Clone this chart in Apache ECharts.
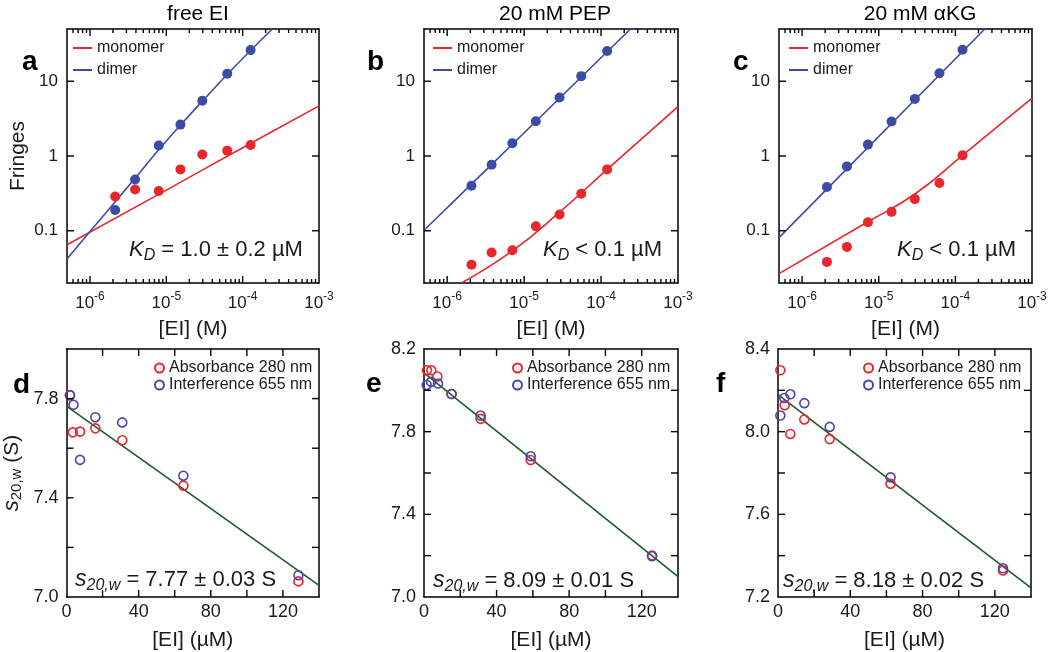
<!DOCTYPE html>
<html><head><meta charset="utf-8">
<script src="https://cdn.jsdelivr.net/npm/echarts@6/dist/echarts.min.js"></script>
<style>html,body{margin:0;padding:0;background:#fff}#c{width:1050px;height:652px}</style>
</head><body><div id="c"></div>
<script>
// ---------- data ----------
const panelTitles = ['free EI', '20 mM PEP', '20 mM \u03b1KG'];
const panelLetters = ['a', 'b', 'c', 'd', 'e', 'f'];
const kdTexts = ['{i|K}{s|D}{n| = 1.0 \u00b1 0.2 \u00b5M}', '{i|K}{s|D}{n| < 0.1 \u00b5M}', '{i|K}{s|D}{n| < 0.1 \u00b5M}'];
const sedTexts = ['{i|s}{s|20,w}{n| = 7.77 \u00b1 0.03 S}', '{i|s}{s|20,w}{n| = 8.09 \u00b1 0.01 S}', '{i|s}{s|20,w}{n| = 8.18 \u00b1 0.02 S}'];

// top row (log-log): concentration (M) vs fringes
const conc_a = [2.14e-6, 3.9e-6, 7.96e-6, 1.53e-5, 2.96e-5, 6.28e-5, 1.27e-4];
const dimer_a = [0.189, 0.486, 1.38, 2.63, 5.47, 12.6, 26.1];
const monomer_a = [0.288, 0.357, 0.340, 0.662, 1.05, 1.18, 1.40];
const dimerFit_a = [[5e-7,0.042],[1e-6,0.098],[2e-6,0.225],[4e-6,0.52],[8e-6,1.22],[1.6e-5,2.72],[3.2e-5,5.9],[6.4e-5,12.6],[1.28e-4,26],[2.45e-4,50]];
const monomerFit_a = [[5e-7,0.065],[1e-5,0.35],[1e-4,1.29],[1e-3,4.69]];

const conc_b = [2.07e-6, 3.78e-6, 7.03e-6, 1.42e-5, 2.89e-5, 5.53e-5, 1.20e-4];
const dimer_b = [0.400, 0.765, 1.48, 2.92, 6.06, 11.7, 25.4];
const monomer_b = [0.0352, 0.0511, 0.0548, 0.115, 0.165, 0.312, 0.662];
const dimerFit_b = [[5e-7,0.1016],[2.07e-6,0.42],[1.2e-4,24.8],[2.41e-4,50]];
const monomerFit_b = [[1.53e-6,0.02],[7.03e-6,0.0537],[2.89e-5,0.177],[1.2e-4,0.662],[1e-3,4.59]];

const conc_c = [2.11e-6, 3.85e-6, 7.23e-6, 1.47e-5, 2.96e-5, 6.20e-5, 1.24e-4];
const dimer_c = [0.384, 0.726, 1.42, 2.89, 5.81, 12.8, 26.4];
const monomer_c = [0.0383, 0.0608, 0.130, 0.179, 0.265, 0.435, 1.02];
const dimerFit_c = [[5e-7,0.081],[2.42e-4,50]];
const monomerFit_c = [[5e-7,0.0267],[7.23e-6,0.132],[2.96e-5,0.31],[1.24e-4,1.02],[1e-3,5.93]];

// bottom row: [EI] (uM) vs s20,w (S)
const absX_d = [1.84, 3.5, 7.5, 16.0, 30.9, 64.8, 128.6];
const absY_d = [7.814, 7.664, 7.667, 7.680, 7.632, 7.449, 7.063];
const intX_d = [2.0, 3.86, 7.5, 16.0, 30.9, 64.8, 128.6];
const intY_d = [7.814, 7.775, 7.553, 7.725, 7.704, 7.489, 7.088];
const fit_d = [[0, 7.77], [140, 7.047]];

const absX_e = [1.65, 4.04, 7.35, 15.2, 31.2, 58.8, 125.7];
const absY_e = [8.097, 8.097, 8.067, 7.982, 7.862, 7.663, 7.201];
const intX_e = [1.5, 3.9, 7.7, 15.2, 31.2, 58.8, 125.7];
const intY_e = [8.026, 8.041, 8.033, 7.982, 7.878, 7.681, 7.197];
const fit_e = [[0, 8.085], [140, 7.099]];

const absX_f = [1.29, 3.69, 6.82, 14.57, 28.6, 62.3, 124.5];
const absY_f = [8.297, 8.128, 7.989, 8.059, 7.964, 7.748, 7.328];
const intX_f = [1.29, 3.5, 6.82, 14.57, 28.6, 62.3, 124.5];
const intY_f = [8.078, 8.163, 8.181, 8.138, 8.023, 7.779, 7.339];
const fit_f = [[0, 8.179], [140, 7.244]];

// axis ranges / ticks
const logX = [5e-7, 1e-3];
const logY = [0.02, 50];
const logYLabels = [0.1, 1, 10];
const logXMajorTicks = [1e-6, 1e-5, 1e-4];
const logXMinorTicks = [6e-7,7e-7,8e-7,9e-7,2e-6,3e-6,4e-6,5e-6,6e-6,7e-6,8e-6,9e-6,2e-5,3e-5,4e-5,5e-5,6e-5,7e-5,8e-5,9e-5,2e-4,3e-4,4e-4,5e-4,6e-4,7e-4,8e-4,9e-4];
const linX = [0, 140];
const linXTicks = [20, 40, 60, 80, 100, 120];
const linYRanges = [[7.0, 8.0], [7.0, 8.2], [7.2, 8.4]];
const linYTicks = [[7.2, 7.4, 7.6, 7.8], [7.2, 7.4, 7.6, 7.8, 8.0], [7.4, 7.6, 7.8, 8.0, 8.2]];

// ---------- styling ----------
const FONT = '"Liberation Sans", Arial, Helvetica, sans-serif';
const RED = '#e8262c', BLUE = '#3a4ca6', BLUE2 = '#4a47a8', GREEN = '#1f5a26', TXT = '#1a1a1a';
const grids = [
  {left: 67, top: 29, width: 252, height: 254},
  {left: 424, top: 29, width: 254, height: 254},
  {left: 779, top: 29, width: 253, height: 254},
  {left: 66, top: 349, width: 253, height: 254},
  {left: 424, top: 349, width: 254, height: 254},
  {left: 778, top: 349, width: 253, height: 254}
];
function frameLine() { return {show: true, onZero: false, lineStyle: {color: '#000', width: 1.5}}; }
function noTick() { return {show: false}; }
const TW = 1.4, MAJ = 7, MIN = 4;

function near(a, b) { return Math.abs(a / b - 1) < 1e-6; }
function logXFmt(v) {
  const e = Math.log10(v), r = Math.round(e);
  if (Math.abs(e - r) > 1e-6) return '';
  return '{b|10}{s|' + r + '}';
}
function logYFmt(v) {
  for (const l of logYLabels) if (near(v, l)) return String(l);
  return '';
}

const xAxis = [], yAxis = [], series = [], legend = [];
function tickSeries(xi, yi, data, w, h, off) {
  series.push({type: 'scatter', xAxisIndex: xi, yAxisIndex: yi, data: data, symbol: 'rect',
    symbolSize: [w, h], symbolOffset: off, itemStyle: {color: '#000', opacity: 1}, silent: true, clip: false, z: 6});
}
function addTicks(xi, yi, xMaj, xMin, yMaj, xr, yr) {
  tickSeries(xi, yi, xMaj.map(v => [v, yr[0]]), TW, MAJ, [0, -MAJ / 2]);
  tickSeries(xi, yi, xMaj.map(v => [v, yr[1]]), TW, MAJ, [0, MAJ / 2]);
  if (xMin.length) {
    tickSeries(xi, yi, xMin.map(v => [v, yr[0]]), TW, MIN, [0, -MIN / 2]);
    tickSeries(xi, yi, xMin.map(v => [v, yr[1]]), TW, MIN, [0, MIN / 2]);
  }
  tickSeries(xi, yi, yMaj.map(v => [xr[0], v]), MAJ, TW, [MAJ / 2, 0]);
  tickSeries(xi, yi, yMaj.map(v => [xr[1], v]), MAJ, TW, [-MAJ / 2, 0]);
}

const topData = [
  {conc: conc_a, dimer: dimer_a, mono: monomer_a, dFit: dimerFit_a, mFit: monomerFit_a},
  {conc: conc_b, dimer: dimer_b, mono: monomer_b, dFit: dimerFit_b, mFit: monomerFit_b},
  {conc: conc_c, dimer: dimer_c, mono: monomer_c, dFit: dimerFit_c, mFit: monomerFit_c}
];
const botData = [
  {ax: absX_d, ay: absY_d, ix: intX_d, iy: intY_d, fit: fit_d},
  {ax: absX_e, ay: absY_e, ix: intX_e, iy: intY_e, fit: fit_e},
  {ax: absX_f, ay: absY_f, ix: intX_f, iy: intY_f, fit: fit_f}
];
const zip = (xs, ys) => xs.map((x, k) => [x, ys[k]]);

for (let i = 0; i < 6; i++) {
  const isTop = i < 3;
  const xi = 2 * i, yi = 2 * i;
  if (isTop) {
    xAxis.push({
      type: 'log', logBase: 10, gridIndex: i, min: logX[0], max: logX[1], position: 'bottom',
      axisLine: frameLine(), axisTick: noTick(), splitLine: {show: false},
      axisLabel: {formatter: logXFmt, margin: 8, rich: {
        b: {fontSize: 17, fontFamily: FONT, color: TXT},
        s: {fontSize: 12, fontFamily: FONT, color: TXT, padding: [0, 0, 12, 0]}}},
      name: '[EI] (M)', nameLocation: 'middle', nameGap: 36,
      nameTextStyle: {fontSize: 21, fontFamily: FONT, color: TXT}
    });
    xAxis.push({
      type: 'log', logBase: 10, gridIndex: i, min: logX[0], max: logX[1], position: 'top',
      axisLine: frameLine(), axisTick: noTick(), splitLine: {show: false}, axisLabel: {show: false}
    });
    yAxis.push({
      type: 'log', logBase: 10, gridIndex: i, min: logY[0], max: logY[1], position: 'left',
      axisLine: frameLine(), axisTick: noTick(), splitLine: {show: false},
      axisLabel: {formatter: logYFmt, margin: 9, fontSize: 17, fontFamily: FONT, color: TXT},
      name: i === 0 ? 'Fringes' : '', nameLocation: 'middle', nameGap: 38,
      nameTextStyle: {fontSize: 21, fontFamily: FONT, color: TXT}
    });
    yAxis.push({
      type: 'log', logBase: 10, gridIndex: i, min: logY[0], max: logY[1], position: 'right',
      axisLine: frameLine(), axisTick: noTick(), splitLine: {show: false}, axisLabel: {show: false}
    });
    const d = topData[i];
    series.push({type: 'line', name: 'monomer', xAxisIndex: xi, yAxisIndex: yi, data: d.mFit,
      showSymbol: false, smooth: true, lineStyle: {color: RED, width: 1.6}, itemStyle: {color: RED}, z: 2, silent: true});
    series.push({type: 'line', name: 'dimer', xAxisIndex: xi, yAxisIndex: yi, data: d.dFit,
      showSymbol: false, smooth: true, lineStyle: {color: BLUE, width: 1.6}, itemStyle: {color: BLUE}, z: 2, silent: true});
    series.push({type: 'scatter', name: 'monomer data', xAxisIndex: xi, yAxisIndex: yi, data: zip(d.conc, d.mono),
      symbolSize: 10, itemStyle: {color: RED, opacity: 1}, z: 3});
    series.push({type: 'scatter', name: 'dimer data', xAxisIndex: xi, yAxisIndex: yi, data: zip(d.conc, d.dimer),
      symbolSize: 10, itemStyle: {color: BLUE, opacity: 1}, z: 3});
    addTicks(xi, yi, logXMajorTicks, logXMinorTicks, logYLabels, logX, logY);
    const legLeft = [73, 433, 789][i];
    legend.push({data: ['monomer', 'dimer'], orient: 'vertical', left: legLeft, top: 40, padding: 0,
      icon: 'rect', itemWidth: 19, itemHeight: 2, itemGap: 6, selectedMode: false,
      textStyle: {fontSize: 16, fontFamily: FONT, color: TXT, lineHeight: 16}});
  } else {
    const j = i - 3;
    const yr = linYRanges[j];
    xAxis.push({
      type: 'value', gridIndex: i, min: linX[0], max: linX[1], interval: 20, position: 'bottom',
      axisLine: frameLine(), axisTick: noTick(), splitLine: {show: false},
      axisLabel: {formatter: v => (Math.round(v) % 40 === 0 ? String(Math.round(v)) : ''), margin: 6,
        fontSize: 18, fontFamily: FONT, color: TXT, showMinLabel: true, showMaxLabel: true},
      name: '[EI] (\u00b5M)', nameLocation: 'middle', nameGap: 33,
      nameTextStyle: {fontSize: 21, fontFamily: FONT, color: TXT}
    });
    xAxis.push({
      type: 'value', gridIndex: i, min: linX[0], max: linX[1], interval: 20, position: 'top',
      axisLine: frameLine(), axisTick: noTick(), splitLine: {show: false}, axisLabel: {show: false}
    });
    yAxis.push({
      type: 'value', gridIndex: i, min: yr[0], max: yr[1], interval: 0.2, position: 'left',
      axisLine: frameLine(), axisTick: noTick(), splitLine: {show: false},
      axisLabel: {formatter: v => (Math.round((v - yr[0]) / 0.2) % 2 === 0 ? v.toFixed(1) : ''), margin: 8,
        fontSize: 18, fontFamily: FONT, color: TXT, showMinLabel: true, showMaxLabel: true},
      name: j === 0 ? '{i|s}{s|20,w}{n| (S)}' : '', nameLocation: 'middle', nameGap: 42,
      nameTextStyle: {fontSize: 21, fontFamily: FONT, color: TXT, rich: {
        i: {fontSize: 22, fontFamily: FONT, fontStyle: 'italic', color: TXT},
        s: {fontSize: 15, fontFamily: FONT, color: TXT, padding: [10, 0, 0, 0]},
        n: {fontSize: 21, fontFamily: FONT, color: TXT}}}
    });
    yAxis.push({
      type: 'value', gridIndex: i, min: yr[0], max: yr[1], interval: 0.2, position: 'right',
      axisLine: frameLine(), axisTick: noTick(), splitLine: {show: false}, axisLabel: {show: false}
    });
    const d = botData[j];
    series.push({type: 'line', name: 'fit', xAxisIndex: xi, yAxisIndex: yi, data: d.fit, showSymbol: false,
      lineStyle: {color: GREEN, width: 1.6}, itemStyle: {color: GREEN}, z: 2, silent: true});
    series.push({type: 'scatter', name: 'Absorbance 280 nm', xAxisIndex: xi, yAxisIndex: yi, data: zip(d.ax, d.ay),
      symbolSize: 9, itemStyle: {color: 'rgba(255,255,255,0)', borderColor: RED, borderWidth: 1.6, opacity: 1}, z: 3});
    series.push({type: 'scatter', name: 'Interference 655 nm', xAxisIndex: xi, yAxisIndex: yi, data: zip(d.ix, d.iy),
      symbolSize: 9, itemStyle: {color: 'rgba(255,255,255,0)', borderColor: BLUE2, borderWidth: 1.6, opacity: 1}, z: 4});
    addTicks(xi, yi, linXTicks, [], linYTicks[j], linX, yr);
    const legLeft = [154, 512, 863][j];
    legend.push({data: ['Absorbance 280 nm', 'Interference 655 nm'], orient: 'vertical', left: legLeft, top: 360, padding: 0,
      icon: 'circle', itemWidth: 9, itemHeight: 9, itemGap: 1, selectedMode: false,
      textStyle: {fontSize: 16, fontFamily: FONT, color: TXT, lineHeight: 16}});
  }
}

// ---------- text annotations ----------
const graphic = [];
const titleX = [198, 555, 920];
panelTitles.forEach((t, k) => graphic.push({type: 'text', x: titleX[k], y: 14,
  style: {text: t, font: '21px ' + FONT, fill: '#000', align: 'center', verticalAlign: 'middle'}}));
const letterPos = [[22, 48], [367, 48], [733, 48], [13, 371], [366, 370], [716, 370]];
panelLetters.forEach((t, k) => graphic.push({type: 'text', x: letterPos[k][0], y: letterPos[k][1],
  style: {text: t, font: 'bold 28px ' + FONT, fill: '#000', align: 'left', verticalAlign: 'alphabetic'}}));
const kdRich = {
  i: {fontSize: 22, fontFamily: FONT, fontStyle: 'italic', fill: TXT},
  s: {fontSize: 16, fontFamily: FONT, fontStyle: 'italic', fill: TXT, padding: [11, 0, 0, 0]},
  n: {fontSize: 22, fontFamily: FONT, fill: TXT}
};
const kdPos = [[129, 250], [543, 250], [897, 250]];
kdTexts.forEach((t, k) => graphic.push({type: 'text', x: kdPos[k][0], y: kdPos[k][1],
  style: {text: t, rich: kdRich, align: 'left', verticalAlign: 'middle'}}));
const sRich = {
  i: {fontSize: 23, fontFamily: FONT, fontStyle: 'italic', fill: TXT},
  s: {fontSize: 16, fontFamily: FONT, fontStyle: 'italic', fill: TXT, padding: [11, 0, 0, 0]},
  n: {fontSize: 22, fontFamily: FONT, fill: TXT}
};
const sPos = [[75, 580], [433, 581], [783, 581]];
sedTexts.forEach((t, k) => graphic.push({type: 'text', x: sPos[k][0], y: sPos[k][1],
  style: {text: t, rich: sRich, align: 'left', verticalAlign: 'middle'}}));

const chart = echarts.init(document.getElementById('c'), null, {renderer: 'canvas'});
chart.setOption({
  animation: false,
  backgroundColor: '#fff',
  grid: grids.map(g => Object.assign({containLabel: false, show: false}, g)),
  xAxis, yAxis, series, legend, graphic
});
</script></body></html>
